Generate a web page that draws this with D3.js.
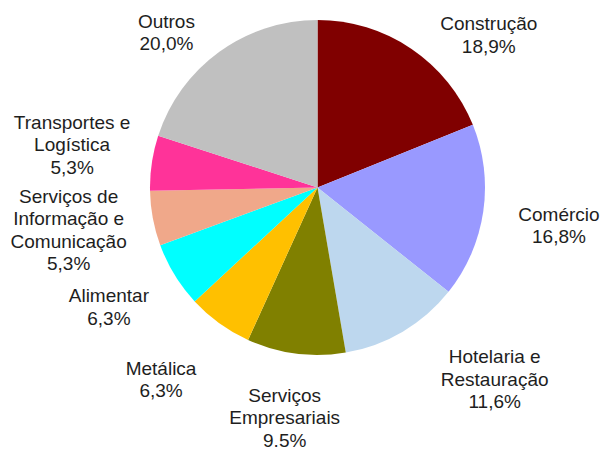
<!DOCTYPE html>
<html>
<head>
<meta charset="utf-8">
<script src="https://cdn.jsdelivr.net/npm/d3@7"></script>
<style>
  html, body { margin: 0; padding: 0; background: #ffffff; }
  svg { display: block; }
  text { font-family: "Liberation Sans", Arial, sans-serif; fill: #1e1e1e; }
</style>
</head>
<body>
<svg id="chart" width="603" height="452"></svg>
<script>
// ---- data ----
const categories = [
  ["Construção"],
  ["Comércio"],
  ["Hotelaria e", "Restauração"],
  ["Serviços", "Empresariais"],
  ["Metálica"],
  ["Alimentar"],
  ["Serviços de", "Informação e", "Comunicação"],
  ["Transportes e", "Logística"],
  ["Outros"]
];
const values = [18.9, 16.8, 11.6, 9.5, 6.3, 6.3, 5.3, 5.3, 20.0];
const valueLabels = ["18,9%", "16,8%", "11,6%", "9.5%", "6,3%", "6,3%", "5,3%", "5,3%", "20,0%"];
const colors = ["#800000", "#9999FF", "#BDD7EE", "#808000", "#FFC000", "#00FFFF", "#F0A88A", "#FF3399", "#C0C0C0"];

// ---- layout ----
const width = 603, height = 452;
const cx = 317.5, cy = 187.5, radius = 167.5;
const labelRadius = 240;
const fontSize = 19, lineH = 22.5, capH = 13.6;
// best-fit label adjustments (relative to the label-arc centroid)
const labelNudge = [[37, 46], [4, 3], [55, -15], [-2, -8], [-16, -3], [-4, -6], [-13, -2], [-8, -8], [-10, 39]];

const svg = d3.select("#chart");
const g = svg.append("g").attr("transform", `translate(${cx},${cy})`);

const pie = d3.pie().sort(null).value(d => d)(values);
const arc = d3.arc().innerRadius(0).outerRadius(radius);
const labelArc = d3.arc().innerRadius(labelRadius).outerRadius(labelRadius);

g.selectAll("path.slice")
  .data(pie)
  .join("path")
  .attr("class", "slice")
  .attr("d", arc)
  .attr("fill", (d, i) => colors[i]);

g.selectAll("text.lbl")
  .data(pie)
  .join("text")
  .attr("class", "lbl")
  .attr("text-anchor", "middle")
  .attr("font-size", fontSize)
  .each(function (d, i) {
    const lines = categories[i].concat([valueLabels[i]]);
    const [x0, y0] = labelArc.centroid(d);
    const x = x0 + labelNudge[i][0];
    const yc = y0 + labelNudge[i][1];
    const blockH = capH + (lines.length - 1) * lineH;
    const firstBase = yc - blockH / 2 + capH;
    const t = d3.select(this);
    lines.forEach((ln, k) => {
      t.append("tspan")
        .attr("x", x)
        .attr("y", firstBase + k * lineH)
        .text(ln);
    });
  });
</script>
</body>
</html>
